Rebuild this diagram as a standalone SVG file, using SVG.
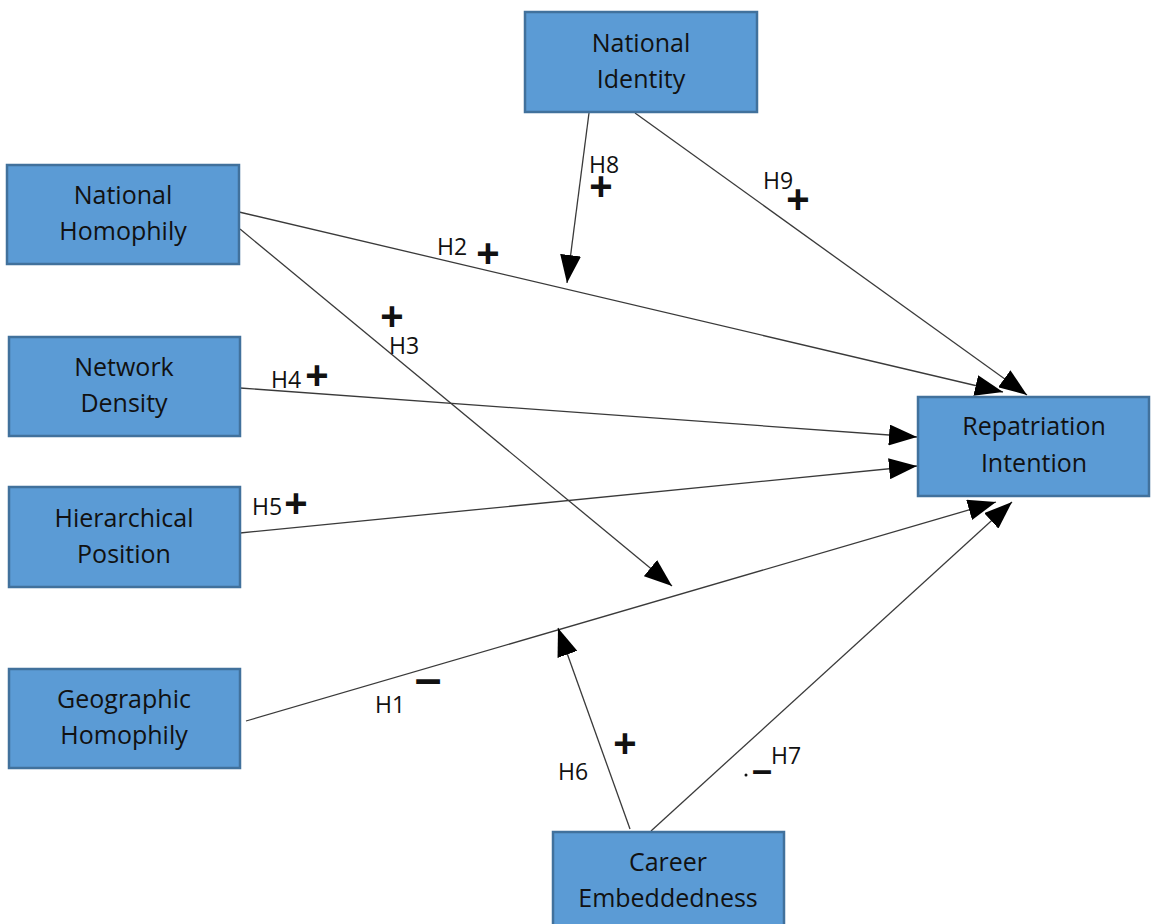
<svg xmlns="http://www.w3.org/2000/svg" width="1152" height="924" viewBox="0 0 1152 924">
<style>
.box{fill:#5B9BD5;stroke:#41719C;stroke-width:2.5}
.nt{font-family:"Open Sans","Liberation Sans",sans-serif;font-size:25px;fill:#111;text-anchor:middle}
.lbl{font-family:"Open Sans","Liberation Sans",sans-serif;font-size:23px;fill:#111}
.sign{font-family:"Liberation Sans",Arial,sans-serif;font-weight:bold;fill:#111;text-anchor:middle}
.edge{stroke:#3a3a3a;stroke-width:1.3;fill:none;marker-end:url(#arr)}
</style>
<defs>
<marker id="arr" markerUnits="userSpaceOnUse" markerWidth="28" markerHeight="21" refX="28" refY="10.5" orient="auto">
<path d="M0,0 L28,10.5 L0,21 z" fill="#000"/>
</marker>
</defs>
<rect width="1152" height="924" fill="#fff"/>
<g id="connectors">
<line class="edge" x1="239" y1="212" x2="1003" y2="392"/>
<line class="edge" x1="240" y1="229" x2="672" y2="586"/>
<line class="edge" x1="240" y1="388" x2="917" y2="437"/>
<line class="edge" x1="240" y1="533" x2="917" y2="466"/>
<line class="edge" x1="246" y1="721" x2="996" y2="502"/>
<line class="edge" x1="630" y1="829" x2="558" y2="628"/>
<line class="edge" x1="651" y1="831" x2="1012" y2="502"/>
<line class="edge" x1="589" y1="113" x2="567" y2="283"/>
<line class="edge" x1="635" y1="113" x2="1027" y2="395"/>
</g>
<g id="labels">
<text class="lbl" x="437" y="255">H2</text>
<text class="sign" x="488" y="267" font-size="40">+</text>
<text class="lbl" x="389" y="354">H3</text>
<text class="sign" x="392" y="330" font-size="40">+</text>
<text class="lbl" x="271" y="388">H4</text>
<text class="sign" x="317" y="389" font-size="40">+</text>
<text class="lbl" x="252" y="515">H5</text>
<text class="sign" x="296" y="517" font-size="40">+</text>
<text class="lbl" x="375" y="713">H1</text>
<text class="sign" x="428" y="695" font-size="48">–</text>
<text class="lbl" x="558" y="780">H6</text>
<text class="sign" x="625" y="757" font-size="40">+</text>
<text class="lbl" x="771" y="764">H7</text>
<circle cx="746" cy="775" r="1.5" fill="#111"/>
<text class="sign" x="762" y="782" font-size="36">–</text>
<text class="lbl" x="589" y="173">H8</text>
<text class="sign" x="601" y="200" font-size="40">+</text>
<text class="lbl" x="763" y="189">H9</text>
<text class="sign" x="798" y="213" font-size="40">+</text>
</g>
<g id="national-identity">
<rect class="box" x="525" y="12" width="232" height="100"/>
<text class="nt" x="641" y="52">National</text>
<text class="nt" x="641" y="88">Identity</text>
</g>
<g id="national-homophily">
<rect class="box" x="7" y="165" width="232" height="99"/>
<text class="nt" x="123" y="204">National</text>
<text class="nt" x="123" y="240">Homophily</text>
</g>
<g id="network-density">
<rect class="box" x="9" y="337" width="231" height="99"/>
<text class="nt" x="124" y="376">Network</text>
<text class="nt" x="124" y="412">Density</text>
</g>
<g id="hierarchical-position">
<rect class="box" x="9" y="487" width="231" height="100"/>
<text class="nt" x="124" y="527">Hierarchical</text>
<text class="nt" x="124" y="563">Position</text>
</g>
<g id="geographic-homophily">
<rect class="box" x="9" y="669" width="231" height="99"/>
<text class="nt" x="124" y="708">Geographic</text>
<text class="nt" x="124" y="744">Homophily</text>
</g>
<g id="repatriation-intention">
<rect class="box" x="918" y="397" width="231" height="99"/>
<text class="nt" x="1034" y="435">Repatriation</text>
<text class="nt" x="1034" y="472">Intention</text>
</g>
<g id="career-embeddedness">
<rect class="box" x="553" y="832" width="231" height="100"/>
<text class="nt" x="668" y="871">Career</text>
<text class="nt" x="668" y="907">Embeddedness</text>
</g>
</svg>
